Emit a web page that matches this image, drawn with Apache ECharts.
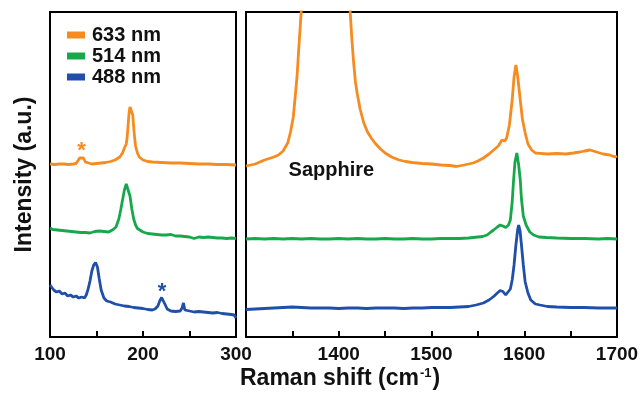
<!DOCTYPE html>
<html><head><meta charset="utf-8">
<script src="https://cdn.jsdelivr.net/npm/echarts@6/dist/echarts.min.js"></script>
<style>html,body{margin:0;padding:0;background:#fff}#c{width:643px;height:396px}</style>
</head><body><div id="c"></div>
<script>
// ---- data (intensity in arbitrary units, offset spectra) ----
const seriesNames = ['633 nm', '514 nm', '488 nm'];
const leftTicks = [100, 200, 300];
const rightTicks = [1400, 1500, 1600, 1700];

const left633 = [[100,173],[105,172.5],[110,173],[115,173],[120,172.5],[125,173],[128,173.5],[130,175],[132,179],[134,181],[136,179],[138,175],[140,173],[145,173],[150,173.5],[155,174],[160,174.5],[165,175.5],[170,177],[175,180],[178,184],[180,189],[182,193],[183,200],[184,212],[185,224],[186,230],[187,232],[188,230],[189,222],[190,210],[191,199],[192,191],[194,184],[196,180],[198,178],[200,177],[205,175.5],[210,175],[220,174.5],[230,174],[240,174],[250,173.5],[260,173],[270,173],[280,172.5],[290,172.5],[300,172]];
const left514 = [[100,109],[103,107.5],[105,108.5],[108,107],[110,107.5],[113,106.5],[115,107],[118,106],[120,106.5],[123,105.5],[125,106],[128,105],[130,105.5],[133,104.5],[135,105.5],[138,104.5],[140,105],[143,104],[145,105],[148,105.5],[150,104.5],[153,106],[155,105],[158,105.5],[160,106],[163,105],[165,106],[168,107.5],[171,110],[174,118],[176,127],[178,137],[180,147],[182,153],[183,154.5],[184,152],[186,141],[188,128],[190,118],[192,112],[194,108.5],[196,106.5],[200,105],[205,103.5],[210,103],[215,102.5],[220,102],[225,102],[230,102.5],[235,101],[240,101],[245,100.5],[250,100],[255,98.5],[260,100],[265,99.5],[270,100],[275,99.5],[280,99],[285,99],[290,98.5],[295,99],[300,98.5]];
const left488 = [[100,52],[102,50],[104,47],[107,45],[110,46],[113,43],[116,44],[119,41],[122,42],[125,40],[128,41],[131,39],[134,40],[137,39],[139,42],[141,48],[143,56],[145,66],[147,72],[149,74.5],[151,70],[153,58],[155,47],[158,39],[161,36],[165,35],[170,33],[175,32],[180,31],[185,30.5],[190,29.5],[195,29],[200,28.5],[205,27.5],[210,27],[213,28],[216,31],[218,36],[220,39.5],[222,38],[224,32],[226,28],[230,26],[235,25.5],[240,26],[242,29],[243.5,34],[245,27],[250,26],[255,25],[260,25.5],[265,25],[270,24.5],[275,24],[280,24.5],[285,23.5],[290,23],[295,22.5],[298,22],[300,19]];

const right633 = [[1300,171],[1310,173],[1320,177],[1330,180],[1335,182],[1340,186],[1345,194],[1348,205],[1351,220],[1353,240],[1355,260],[1357,290],[1359,318],[1361,345],[1365,420],[1375,600],[1385,700],[1395,620],[1405,450],[1410,360],[1412,330],[1414,300],[1416,275],[1418,255],[1420,243],[1423,228],[1427,214],[1431,205],[1435,199],[1439,194],[1445,188],[1450,184],[1457,180],[1465,177],[1472,175.5],[1479,174.5],[1490,173.5],[1500,173],[1510,172],[1520,171.5],[1527,170.5],[1535,172],[1545,174],[1550,176],[1556,179],[1562,183],[1567,187],[1572,191],[1576,197],[1579,196],[1581,199],[1584,212],[1587,237],[1589,260],[1591,272],[1593,260],[1595.7,237],[1598,218],[1601,204],[1604,193],[1608,187],[1612,184],[1617,183.7],[1625,183],[1635,183.5],[1645,183],[1653,184],[1660,185],[1665,186],[1671,187],[1678,185],[1685,183],[1692,182],[1698,180],[1700,181]];
const right514 = [[1300,98],[1310,98.5],[1320,98],[1330,98.5],[1340,98],[1350,98.5],[1360,98],[1370,98.5],[1380,98],[1390,98],[1400,98.5],[1410,98],[1420,98.5],[1430,98],[1440,98],[1450,98.5],[1460,98],[1470,98],[1480,98.5],[1490,98],[1500,98],[1510,98.5],[1520,98.5],[1530,98.5],[1540,99],[1545,99.5],[1550,100],[1555,100.5],[1560,102],[1564,105],[1567,107],[1571,110],[1574,112],[1577,111],[1580,109.5],[1583,112],[1585,117],[1587,135],[1588.5,157],[1590,175],[1592,184],[1594,172],[1595.7,157],[1597,138],[1599,121],[1602,112],[1606,105],[1610,102],[1616,100],[1624,99.5],[1635,99],[1650,98.5],[1665,98.5],[1680,98],[1690,98.5],[1700,98]];
const right488 = [[1300,27.5],[1310,28],[1320,28.5],[1330,29],[1340,29.5],[1350,30],[1360,29.5],[1370,29],[1380,29],[1390,29],[1400,28.5],[1410,29],[1420,29],[1430,28.5],[1440,29],[1450,29],[1460,29],[1470,28.5],[1480,29],[1490,29],[1500,29.5],[1510,29.5],[1520,29.5],[1530,30],[1540,30.5],[1548,32],[1556,34],[1562,37],[1567,40.5],[1571,44],[1574,46.5],[1577,45.5],[1580,42],[1582,41],[1585,48],[1587,57],[1589,72],[1591,92],[1593,108],[1594,112],[1595.5,106],[1597,92],[1599,72],[1601,55],[1604,44],[1607,37],[1612,33],[1617,32],[1625,30.5],[1635,30],[1650,29.5],[1665,29.5],[1680,29],[1690,29],[1700,29]];

const star633 = [134, 186];
const star488 = [220.5, 45];
const sapphireLabel = [1392, 167];

// ---- style ----
const colors = ['#F68B1F', '#17A84B', '#1F4FA8'];
const FONT = 'Liberation Sans, Arial, sans-serif';

const chart = echarts.init(document.getElementById('c'), null, {renderer: 'canvas'});

function xAxisCfg(idx, min, max, ticks) {
  return {
    type: 'value', gridIndex: idx, min: min, max: max, interval: 50,
    axisLine: {show: true, lineStyle: {color: '#000', width: 2}},
    axisTick: {show: true, inside: true, length: 6, lineStyle: {color: '#000', width: 2}},
    splitLine: {show: false},
    axisLabel: {
      color: '#111', fontSize: 19, fontWeight: 'bold', fontFamily: FONT, margin: 8,
      formatter: v => ticks.indexOf(v) >= 0 ? String(v) : ''
    }
  };
}
function yAxisCfg(idx, withName) {
  const c = {
    type: 'value', gridIndex: idx, min: 0, max: 325,
    axisLine: {show: false}, axisTick: {show: false}, axisLabel: {show: false}, splitLine: {show: false}
  };
  if (withName) {
    Object.assign(c, {
      name: 'Intensity (a.u.)', nameLocation: 'middle', nameRotate: 90, nameGap: 14,
      nameTextStyle: {color: '#111', fontSize: 23, fontWeight: 'bold', fontFamily: FONT}
    });
  }
  return c;
}
function line(name, data, xi, ci, extra) {
  return Object.assign({
    name: name, type: 'line', xAxisIndex: xi, yAxisIndex: xi, data: data,
    showSymbol: false, symbol: 'none', smooth: false, clip: true,
    lineStyle: {color: colors[ci], width: 2.8}, itemStyle: {color: colors[ci]},
    animation: false
  }, extra || {});
}
function starMark(coord, text, color, size) {
  return {
    symbol: 'circle', symbolSize: 0, silent: true,
    label: {show: true, position: 'inside', formatter: text, color: color, fontSize: size, fontWeight: 'bold', fontFamily: FONT},
    data: [{coord: coord, value: 0}]
  };
}

const option = {
  backgroundColor: '#fff',
  animation: false,
  title: {
    text: 'Raman shift (cm{sup|-1})',
    left: 235, top: 362,
    textStyle: {
      color: '#111', fontSize: 23, fontWeight: 'bold', fontFamily: FONT,
      rich: {sup: {fontSize: 13, fontWeight: 'bold', fontFamily: FONT, color: '#111', verticalAlign: 'top', padding: [0, 1, 0, 1]}}
    }
  },
  legend: {
    data: seriesNames, orient: 'vertical', left: 62, top: 20, itemWidth: 18, itemHeight: 7, itemGap: 1,
    icon: 'rect', textStyle: {color: '#111', fontSize: 20, fontWeight: 'bold', fontFamily: FONT, padding: [0, 0, 0, 2]},
    selectedMode: false
  },
  grid: [
    {left: 50, top: 12, width: 186, height: 325, show: true, borderColor: '#000', borderWidth: 2, backgroundColor: 'transparent', containLabel: false},
    {left: 246, top: 12, width: 371, height: 325, show: true, borderColor: '#000', borderWidth: 2, backgroundColor: 'transparent', containLabel: false}
  ],
  xAxis: [xAxisCfg(0, 100, 300, leftTicks), xAxisCfg(1, 1300, 1700, rightTicks)],
  yAxis: [yAxisCfg(0, true), yAxisCfg(1, false)],
  series: [
    line(seriesNames[0], left633, 0, 0, {markPoint: starMark(star633, '*', colors[0], 22)}),
    line(seriesNames[1], left514, 0, 1),
    line(seriesNames[2], left488, 0, 2, {markPoint: starMark(star488, '*', colors[2], 22)}),
    line(seriesNames[0], right633, 1, 0, {markPoint: starMark(sapphireLabel, 'Sapphire', '#111', 20)}),
    line(seriesNames[1], right514, 1, 1),
    line(seriesNames[2], right488, 1, 2)
  ]
};
chart.setOption(option);
</script></body></html>
